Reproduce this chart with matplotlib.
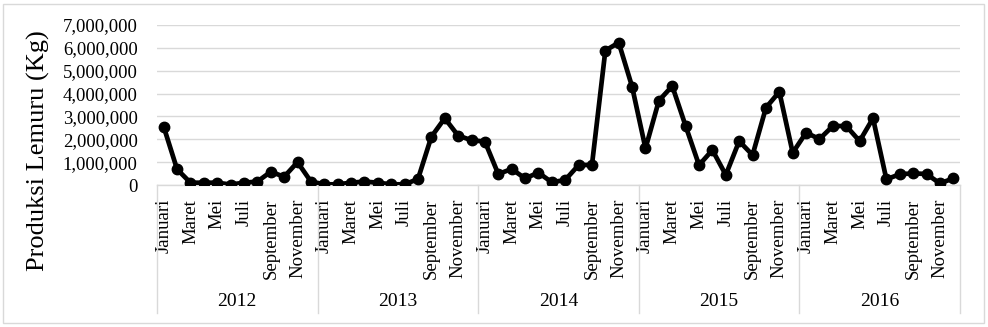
import matplotlib
matplotlib.use("Agg")
import matplotlib.pyplot as plt
import matplotlib.transforms as mtransforms
from matplotlib.patches import Rectangle
from matplotlib.ticker import FuncFormatter

plt.rcParams['font.family'] = ['Liberation Serif', 'DejaVu Serif']

years = ['2012', '2013', '2014', '2015', '2016']
months = ['Januari', 'Februari', 'Maret', 'April', 'Mei', 'Juni', 'Juli',
          'Agustus', 'September', 'Oktober', 'November', 'Desember']
shown_months = ['Januari', 'Maret', 'Mei', 'Juli', 'September', 'November']

prod_2012 = [2550000, 690000, 100000, 100000, 100000, 20000, 100000, 150000, 580000, 360000, 1000000, 150000]
prod_2013 = [30000, 30000, 100000, 150000, 100000, 30000, 30000, 260000, 2110000, 2920000, 2160000, 1960000]
prod_2014 = [1900000, 480000, 700000, 290000, 540000, 120000, 220000, 870000, 880000, 5880000, 6230000, 4300000]
prod_2015 = [1600000, 3690000, 4330000, 2580000, 870000, 1530000, 440000, 1920000, 1310000, 3380000, 4080000, 1410000]
prod_2016 = [2290000, 2010000, 2580000, 2580000, 1920000, 2920000, 250000, 470000, 510000, 480000, 70000, 290000]

values = prod_2012 + prod_2013 + prod_2014 + prod_2015 + prod_2016
n = len(values)
x = list(range(n))

W, H = 988, 327
fig = plt.figure(figsize=(W / 100, H / 100), dpi=100)
ax = fig.add_axes([157 / W, (H - 185) / H, (960 - 157) / W, 160 / H])

ax.plot(x, values, color='black', lw=3.4, marker='o', markersize=7.5, zorder=3,
        solid_joinstyle='round')

ax.set_xlim(-0.5, n - 0.5)
ax.set_ylim(0, 7000000)
ax.set_yticks(range(0, 7000001, 1000000))
ax.yaxis.set_major_formatter(FuncFormatter(lambda v, p: f"{int(v):,}"))
ax.grid(axis='y', color='#d9d9d9', lw=1)
ax.set_axisbelow(True)
for s in ['left', 'right', 'top']:
    ax.spines[s].set_visible(False)
ax.spines['bottom'].set_color('#d9d9d9')
ax.spines['bottom'].set_linewidth(1)
ax.tick_params(axis='y', length=0, labelsize=13.5, pad=14)

# month labels every other month
tick_pos = []
tick_lab = []
for yi in range(len(years)):
    for mi, m in enumerate(months):
        if m in shown_months:
            tick_pos.append(yi * 12 + mi)
            tick_lab.append(m)
ax.set_xticks(tick_pos)
ax.set_xticklabels(tick_lab, rotation=90, fontsize=13.5, va='top', ha='center')
ax.tick_params(axis='x', length=0, pad=10)

trans = mtransforms.blended_transform_factory(ax.transData, ax.transAxes)
sep_bottom = -(313 - 185) / 160
for yi in range(len(years) + 1):
    xs = yi * 12 - 0.5
    ax.plot([xs, xs], [0, sep_bottom], transform=trans, color='#d9d9d9', lw=1, clip_on=False)
for yi, yr in enumerate(years):
    ax.text(yi * 12 + 5.5, -(302 - 185) / 160, yr, transform=trans, ha='center', va='center',
            fontsize=14)

fig.text(38 / W, 1 - 151 / H, 'Produksi Lemuru (Kg)', rotation=90, ha='center', va='center',
         fontsize=19)

fig.patches.append(Rectangle((3 / W, 4 / H), (984 - 3) / W, (323 - 4) / H, transform=fig.transFigure,
                             fill=False, edgecolor='#d9d9d9', lw=1))

fig.savefig('out.png', dpi=100)
